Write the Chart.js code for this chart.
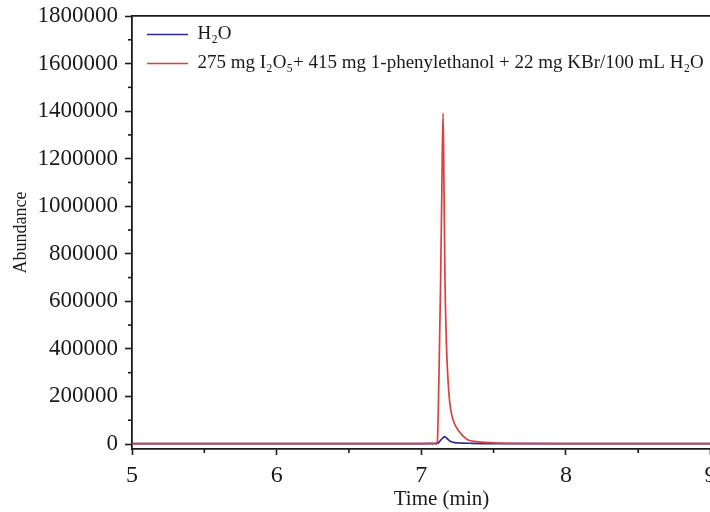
<!DOCTYPE html>
<html>
<head>
<meta charset="utf-8">
<script src="https://cdn.jsdelivr.net/npm/chart.js@4/dist/chart.umd.min.js"></script>
<style>
  html, body { margin: 0; padding: 0; background: #fff; overflow: hidden; }
  #wrap { width: 710px; height: 512px; overflow: hidden; }
</style>
</head>
<body>
<div id="wrap"><canvas id="chart" width="751" height="512"></canvas></div>
<script>
// Retention time (min) and abundance for each trace
const H2O_TIME  = [5.0, 6.0, 7.0, 7.11, 7.125, 7.14, 7.162, 7.18, 7.20, 7.23, 7.28, 7.35, 7.50, 9.3];
const H2O_ABUND = [1500, 1500, 1500, 2000, 9000, 20000, 31000, 22000, 12000, 6000, 4000, 3000, 2000, 1500];

const MIX_TIME  = [5.0, 6.0, 7.0, 7.10, 7.111, 7.122, 7.134, 7.143, 7.151, 7.157, 7.164, 7.174, 7.185, 7.196, 7.208, 7.23, 7.255, 7.29, 7.324, 7.40, 7.50, 7.60, 8.0, 9.3];
const MIX_ABUND = [2000, 2000, 2000, 2500, 8000, 269000, 690000, 1100000, 1392000, 1100000, 690000, 420000, 269000, 180000, 130000, 85000, 59000, 33000, 17000, 9000, 5000, 2800, 2000, 2000];

const SERIES_NAMES = ['H\u2082O', '275 mg I\u2082O\u2085+ 415 mg 1-phenylethanol + 22 mg KBr/100 mL H\u2082O'];

const X_TICKS = [5, 6, 7, 8, 9];
const X_MINOR = [5.5, 6.5, 7.5, 8.5];
const Y_TICKS = [0, 200000, 400000, 600000, 800000, 1000000, 1200000, 1400000, 1600000, 1800000];
const Y_MINOR = [100000, 300000, 500000, 700000, 900000, 1100000, 1300000, 1500000, 1700000];

const INK = '#1a1a1a';
const SERIF = "'Liberation Serif', 'Times New Roman', serif";

const toPoints = (xs, ys) => xs.map((t, i) => ({ x: t, y: ys[i] }));

// Short outward ticks between the labelled ones
const minorTicks = {
  id: 'minorTicks',
  afterDraw(chart) {
    const { ctx, chartArea, scales } = chart;
    ctx.save();
    ctx.strokeStyle = INK;
    ctx.lineWidth = 1.6;
    X_MINOR.forEach(v => {
      const px = scales.x.getPixelForValue(v);
      ctx.beginPath();
      ctx.moveTo(px, chartArea.bottom);
      ctx.lineTo(px, chartArea.bottom + 4);
      ctx.stroke();
    });
    Y_MINOR.forEach(v => {
      const py = scales.y.getPixelForValue(v);
      ctx.beginPath();
      ctx.moveTo(chartArea.left, py);
      ctx.lineTo(chartArea.left - 4, py);
      ctx.stroke();
    });
    ctx.restore();
  }
};

// Nudge the in-plot legend away from the frame corner
const legendInset = {
  id: 'legendInset',
  afterUpdate(chart) {
    const lg = chart.legend;
    if (!lg) return;
    lg.left += 5; lg.right += 5;
    lg.top += 15; lg.bottom += 15;
  }
};

new Chart(document.getElementById('chart'), {
  type: 'line',
  data: {
    datasets: [
      {
        label: SERIES_NAMES[0],
        data: toPoints(H2O_TIME, H2O_ABUND),
        borderColor: '#2b2b94',
        backgroundColor: '#2b2b94',
        borderWidth: 1.7,
        pointRadius: 0,
        cubicInterpolationMode: 'monotone',
        order: 1
      },
      {
        label: SERIES_NAMES[1],
        data: toPoints(MIX_TIME, MIX_ABUND),
        borderColor: '#d8413f',
        backgroundColor: '#d8413f',
        borderWidth: 1.7,
        pointRadius: 0,
        cubicInterpolationMode: 'monotone',
        order: 0
      }
    ]
  },
  options: {
    responsive: false,
    animation: false,
    devicePixelRatio: 1,
    layout: { padding: { top: 16, right: 0, bottom: 0, left: 0 } },
    plugins: {
      tooltip: { enabled: false },
      legend: {
        position: 'chartArea',
        align: 'start',
        labels: {
          usePointStyle: true,
          pointStyle: 'line',
          pointStyleWidth: 41,
          padding: 10,
          color: INK,
          font: { family: SERIF, size: 19 },
          sort: (a, b) => a.datasetIndex - b.datasetIndex
        }
      }
    },
    scales: {
      x: {
        type: 'linear',
        position: 'bottom',
        min: 5,
        max: 9.28,
        afterBuildTicks: s => { s.ticks = X_TICKS.map(v => ({ value: v })); },
        afterFit: s => { s.height = 63; s.paddingLeft = 0; s.paddingRight = 0; },
        grid: { drawOnChartArea: false, tickLength: 6, tickWidth: 1.6, tickColor: INK },
        border: { color: INK, width: 1.8 },
        ticks: {
          color: INK,
          padding: 6,
          maxRotation: 0,
          font: { family: SERIF, size: 24 },
          callback: v => String(v)
        },
        title: {
          display: true,
          text: 'Time (min)',
          color: INK,
          font: { family: SERIF, size: 21 },
          padding: { top: 0, bottom: 0 }
        }
      },
      xTop: {
        type: 'linear',
        position: 'top',
        min: 5,
        max: 9.28,
        afterFit: s => { s.height = 0; s.paddingLeft = 0; s.paddingRight = 0; },
        grid: { display: true, drawOnChartArea: false, drawTicks: false },
        border: { color: INK, width: 1.8 },
        ticks: { display: false }
      },
      y: {
        type: 'linear',
        position: 'left',
        min: -21000,
        max: 1800000,
        afterBuildTicks: s => { s.ticks = Y_TICKS.map(v => ({ value: v })); },
        afterFit: s => { s.width = 132; s.paddingTop = 0; s.paddingBottom = 0; },
        grid: { drawOnChartArea: false, tickLength: 7, tickWidth: 1.6, tickColor: INK },
        border: { color: INK, width: 1.8 },
        ticks: {
          color: INK,
          padding: 7,
          font: { family: SERIF, size: 23 },
          callback: v => String(v)
        },
        title: {
          display: true,
          text: 'Abundance',
          color: INK,
          font: { family: SERIF, size: 18 },
          padding: { top: 10, bottom: 0 }
        }
      }
    }
  },
  plugins: [minorTicks, legendInset]
});
</script>
</body>
</html>
